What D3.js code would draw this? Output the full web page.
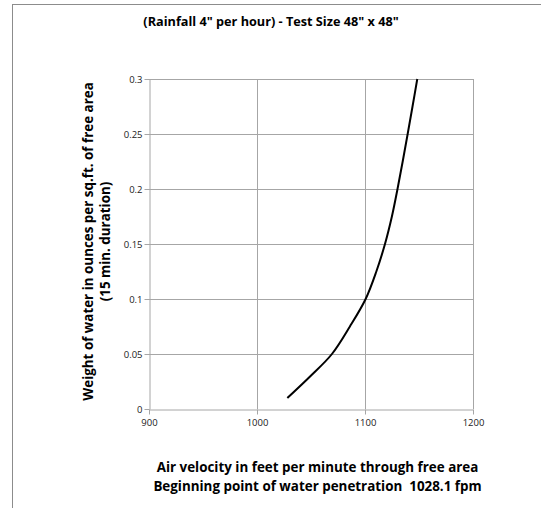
<!DOCTYPE html>
<html><head><meta charset="utf-8">
<script src="https://cdn.jsdelivr.net/npm/d3@7/dist/d3.min.js"></script>
<style>body{margin:0;background:#fff}svg{display:block}</style>
</head><body>
<svg id="c" width="541" height="508"></svg>
<script>
const titleText = '(Rainfall 4" per hour) - Test Size 48" x 48"';
const xTitleLines = ["Air velocity in feet per minute through free area", "Beginning point of water penetration  1028.1 fpm"];
const yTitleLines = ["Weight of water in ounces per sq.ft. of free area", "(15 min. duration)"];
const xTicks = [900, 1000, 1100, 1200];
const yTicks = [0, 0.05, 0.1, 0.15, 0.2, 0.25, 0.3];
const velocity = [1028.1, 1049.6, 1069.4, 1086, 1100.6, 1110.5, 1118.5, 1124.9, 1130.1, 1134.9, 1139.5, 1144.0, 1148.4];
const weight   = [0.01, 0.03, 0.05, 0.075, 0.1, 0.125, 0.15, 0.175, 0.2, 0.225, 0.25, 0.275, 0.3];

const svg = d3.select("#c");
const L = 149, R = 473, T = 79, B = 409;
const x = d3.scaleLinear().domain([900, 1200]).range([L, R]);
const y = d3.scaleLinear().domain([0, 0.3]).range([B, T]);
const font = "'Open Sans', Lato, sans-serif";

// outer frame
svg.append("rect").attr("x", 12.5).attr("y", 4.5).attr("width", 700).attr("height", 700)
  .attr("fill", "none").attr("stroke", "#8c8c8c").attr("stroke-width", 1);

// gridlines
svg.append("g").selectAll("line").data(yTicks.slice(1)).join("line")
  .attr("x1", L).attr("x2", R).attr("y1", d => Math.round(y(d)) + 0.5).attr("y2", d => Math.round(y(d)) + 0.5)
  .attr("stroke", "#a6a6a6");
svg.append("g").selectAll("line").data(xTicks.slice(1)).join("line")
  .attr("y1", T).attr("y2", B).attr("x1", d => Math.round(x(d)) + 0.5).attr("x2", d => Math.round(x(d)) + 0.5)
  .attr("stroke", "#a6a6a6");

// axes
const xAxis = svg.append("g").attr("transform", `translate(0,${B + 0.5})`)
  .call(d3.axisBottom(x).tickValues(xTicks).tickSize(5).tickSizeOuter(0).tickFormat(d3.format("d")));
const yAxis = svg.append("g").attr("transform", `translate(${L + 0.5},0)`)
  .call(d3.axisLeft(y).tickValues(yTicks).tickSize(5).tickSizeOuter(0).tickFormat(d => String(+d.toFixed(2))));
[xAxis, yAxis].forEach(a => {
  a.select(".domain").attr("stroke", "#a6a6a6");
  a.selectAll(".tick line").attr("stroke", "#a6a6a6");
  a.selectAll("text").attr("font-family", font).attr("font-size", 9.5).attr("fill", "#1a1a1a");
});
xAxis.selectAll("text").attr("dy", "0.71em").attr("y", 10);
yAxis.selectAll("text").attr("x", -7);

// curve
const pts = velocity.map((v, i) => [v, weight[i]]);
svg.append("path").datum(pts)
  .attr("d", d3.line().x(d => x(d[0])).y(d => y(d[1])).curve(d3.curveCatmullRom.alpha(0.5)))
  .attr("fill", "none").attr("stroke", "#000").attr("stroke-width", 2);

// title
svg.append("text").attr("x", 271).attr("y", 26).attr("text-anchor", "middle")
  .attr("font-family", font).attr("font-weight", "bold").attr("font-size", 12.7).attr("fill", "#000").text(titleText);

// x title
xTitleLines.forEach((t, i) => svg.append("text").attr("x", 317.5).attr("y", 471.5 + i * 19)
  .attr("text-anchor", "middle").attr("font-family", font).attr("font-weight", "bold").attr("font-size", 13.4)
  .attr("fill", "#000").style("white-space", "pre").text(t));

// y title
yTitleLines.forEach((t, i) => svg.append("text")
  .attr("transform", `translate(${92.5 + i * 17},241.5) rotate(-90)`)
  .attr("text-anchor", "middle").attr("font-family", font).attr("font-weight", "bold").attr("font-size", 13.4)
  .attr("fill", "#000").text(t));
</script>
</body></html>
